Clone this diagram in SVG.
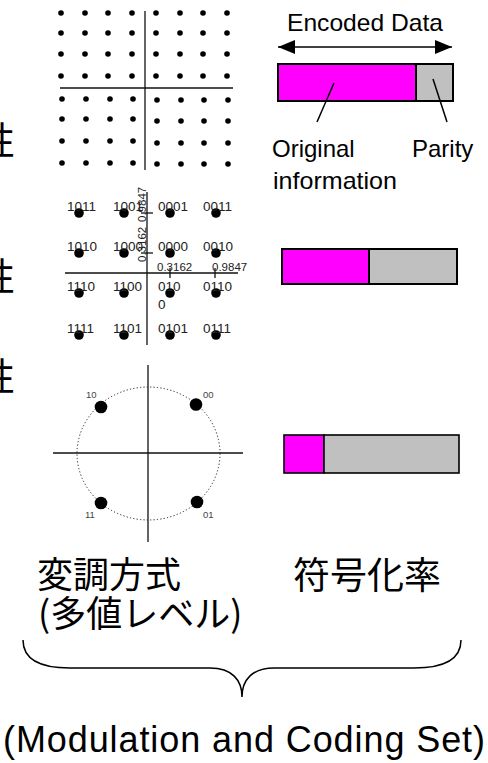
<svg xmlns="http://www.w3.org/2000/svg" width="488" height="763" viewBox="0 0 488 763">
<style>
.ax{stroke:#111;stroke-width:1.3;fill:none}
.d64{fill:#000}
.d16{fill:#000}
.lb16{font-family:"Liberation Sans",Arial,sans-serif;font-size:13.5px;fill:#222}
.tk{font-family:"Liberation Sans",Arial,sans-serif;font-size:11.5px;fill:#222}
.lbq{font-family:"Liberation Sans",Arial,sans-serif;font-size:9.5px;fill:#444}
.en{font-family:"Liberation Sans",Arial,sans-serif;font-size:24px;fill:#000}
.jp{font-family:"Noto Sans CJK JP","Noto Sans CJK SC",sans-serif;font-size:36px;fill:#000}
.bar{stroke:#000;stroke-width:2}
.mag{fill:#ff00ff}
.gry{fill:#c0c0c0}
</style>
<defs>
<marker id="ah" viewBox="0 0 17 14" refX="17" refY="7" markerWidth="17" markerHeight="14" markerUnits="userSpaceOnUse" orient="auto-start-reverse">
<path d="M0,0 L17,7 L0,14 Z" fill="#000"/>
</marker>
</defs>

<g id="side-labels">
<text class="jp" x="-23" y="154" style="font-size:38px">性</text>
<text class="jp" x="-23" y="290" style="font-size:38px">性</text>
<text class="jp" x="-23" y="390" style="font-size:38px">性</text>
</g>

<g id="qam64">
<line class="ax" x1="145" y1="11" x2="145" y2="170"/>
<line class="ax" x1="60" y1="88" x2="233" y2="88"/>
<g class="d64">
<circle cx="61" cy="13" r="2.8"/><circle cx="85" cy="13" r="2.8"/><circle cx="108" cy="13" r="2.8"/><circle cx="132" cy="13" r="2.8"/>
<circle cx="156" cy="13" r="2.8"/><circle cx="180" cy="13" r="2.8"/><circle cx="203" cy="13" r="2.8"/><circle cx="227" cy="13" r="2.8"/>
<circle cx="61" cy="33" r="2.8"/><circle cx="85" cy="33" r="2.8"/><circle cx="108" cy="33" r="2.8"/><circle cx="132" cy="33" r="2.8"/>
<circle cx="156" cy="33" r="2.8"/><circle cx="180" cy="33" r="2.8"/><circle cx="203" cy="33" r="2.8"/><circle cx="227" cy="33" r="2.8"/>
<circle cx="61" cy="54" r="2.8"/><circle cx="85" cy="54" r="2.8"/><circle cx="108" cy="54" r="2.8"/><circle cx="132" cy="54" r="2.8"/>
<circle cx="156" cy="54" r="2.8"/><circle cx="180" cy="54" r="2.8"/><circle cx="203" cy="54" r="2.8"/><circle cx="227" cy="54" r="2.8"/>
<circle cx="61" cy="76" r="2.8"/><circle cx="85" cy="76" r="2.8"/><circle cx="108" cy="76" r="2.8"/><circle cx="132" cy="76" r="2.8"/>
<circle cx="156" cy="76" r="2.8"/><circle cx="180" cy="76" r="2.8"/><circle cx="203" cy="76" r="2.8"/><circle cx="227" cy="76" r="2.8"/>
<circle cx="62" cy="99" r="2.8"/><circle cx="86" cy="99" r="2.8"/><circle cx="110" cy="99" r="2.8"/><circle cx="133" cy="99" r="2.8"/>
<circle cx="157" cy="100" r="2.8"/><circle cx="181" cy="100" r="2.8"/><circle cx="204" cy="100" r="2.8"/><circle cx="228" cy="100" r="2.8"/>
<circle cx="62" cy="119" r="2.8"/><circle cx="86" cy="119" r="2.8"/><circle cx="110" cy="119" r="2.8"/><circle cx="133" cy="119" r="2.8"/>
<circle cx="157" cy="121" r="2.8"/><circle cx="181" cy="121" r="2.8"/><circle cx="204" cy="121" r="2.8"/><circle cx="228" cy="121" r="2.8"/>
<circle cx="62" cy="141" r="2.8"/><circle cx="86" cy="141" r="2.8"/><circle cx="110" cy="141" r="2.8"/><circle cx="133" cy="141" r="2.8"/>
<circle cx="157" cy="143" r="2.8"/><circle cx="181" cy="143" r="2.8"/><circle cx="204" cy="143" r="2.8"/><circle cx="228" cy="143" r="2.8"/>
<circle cx="62" cy="163" r="2.8"/><circle cx="86" cy="163" r="2.8"/><circle cx="110" cy="163" r="2.8"/><circle cx="133" cy="163" r="2.8"/>
<circle cx="157" cy="164" r="2.8"/><circle cx="181" cy="164" r="2.8"/><circle cx="204" cy="164" r="2.8"/><circle cx="228" cy="164" r="2.8"/>
</g>
</g>

<g id="qam16">
<line class="ax" x1="147" y1="192" x2="147" y2="345"/>
<line class="ax" x1="65" y1="273" x2="238" y2="273"/>
<line class="ax" x1="141" y1="213" x2="153" y2="213"/>
<line class="ax" x1="141" y1="253" x2="153" y2="253"/>
<line class="ax" x1="170" y1="268" x2="170" y2="278"/>
<line class="ax" x1="215" y1="268" x2="215" y2="278"/>
<g class="d16">
<circle cx="79" cy="213" r="4.8"/><circle cx="124" cy="213" r="4.8"/><circle cx="170" cy="213" r="4.8"/><circle cx="216" cy="213" r="4.8"/>
<circle cx="79" cy="253" r="4.8"/><circle cx="124" cy="253" r="4.8"/><circle cx="170" cy="253" r="4.8"/><circle cx="216" cy="253" r="4.8"/>
<circle cx="79" cy="293" r="4.8"/><circle cx="124" cy="293" r="4.8"/><circle cx="170" cy="293" r="4.8"/><circle cx="216" cy="293" r="4.8"/>
<circle cx="79" cy="335" r="4.8"/><circle cx="124" cy="335" r="4.8"/><circle cx="170" cy="335" r="4.8"/><circle cx="216" cy="335" r="4.8"/>
</g>
<g class="lb16">
<text x="67" y="211">1011</text><text x="113" y="211">1001</text><text x="158" y="211">0001</text><text x="203" y="211">0011</text>
<text x="67" y="251">1010</text><text x="113" y="251">1000</text><text x="158" y="251">0000</text><text x="203" y="251">0010</text>
<text x="67" y="291">1110</text><text x="113" y="291">1100</text><text x="158" y="291">010</text><text x="203" y="291">0110</text>
<text x="158" y="309">0</text>
<text x="67" y="333">1111</text><text x="113" y="333">1101</text><text x="158" y="333">0101</text><text x="203" y="333">0111</text>
</g>
<g class="tk">
<text transform="translate(146,222) rotate(-90)">0.9847</text>
<text transform="translate(146,262) rotate(-90)">0.3162</text>
<text x="157" y="271">0.3162</text>
<text x="212" y="271">0.9847</text>
</g>
</g>

<g id="qpsk">
<line class="ax" x1="148" y1="365" x2="148" y2="542"/>
<line class="ax" x1="53" y1="453" x2="243" y2="453"/>
<ellipse cx="148.5" cy="453.5" rx="71.5" ry="66.5" fill="none" stroke="#222" stroke-width="1" stroke-dasharray="1.2,2.2"/>
<circle cx="101" cy="407" r="6.3"/>
<circle cx="196" cy="404.5" r="6.3"/>
<circle cx="101" cy="503" r="6.3"/>
<circle cx="197" cy="502" r="6.3"/>
<g class="lbq">
<text x="86" y="398">10</text>
<text x="203" y="398">00</text>
<text x="85" y="518">11</text>
<text x="203" y="518">01</text>
</g>
</g>

<g id="legend">
<line x1="278" y1="47" x2="452" y2="47" stroke="#000" stroke-width="1.5" marker-start="url(#ah)" marker-end="url(#ah)"/>
<text class="en" x="287" y="31" textLength="156" lengthAdjust="spacingAndGlyphs">Encoded Data</text>
<rect class="bar mag" x="278" y="64" width="138" height="37"/>
<rect class="bar gry" x="416" y="64" width="37" height="37"/>
<line x1="334" y1="83" x2="317" y2="122" stroke="#000" stroke-width="1.5"/>
<line x1="433" y1="79" x2="447" y2="122" stroke="#000" stroke-width="1.5"/>
<text class="en" x="272" y="157">Original</text>
<text class="en" x="273" y="189" textLength="124" lengthAdjust="spacingAndGlyphs">information</text>
<text class="en" x="412" y="157">Parity</text>
</g>

<g id="bar2">
<rect class="bar mag" x="282" y="249" width="87" height="35"/>
<rect class="bar gry" x="369" y="249" width="88" height="35"/>
</g>

<g id="bar3">
<rect class="bar mag" x="284" y="435" width="40" height="38" style="stroke-width:1.6"/>
<rect class="bar gry" x="324" y="435" width="135" height="38" style="stroke-width:1.6"/>
</g>

<g id="bottom">
<text class="jp" x="37" y="588">変調方式</text>
<text class="jp" x="38" y="627">(多値レベル)</text>
<text class="jp" x="293" y="589" style="font-size:37px">符号化率</text>
<path d="M23,640 C23,660 40,668 70,668 L210,668 C232,668 242,680 242,697 C242,680 252,668 274,668 L414,668 C444,668 461,660 461,640" fill="none" stroke="#000" stroke-width="1.5"/>
<text x="3" y="752" font-family="Liberation Sans, Arial, sans-serif" font-size="36" textLength="482" lengthAdjust="spacing">(Modulation and Coding Set)</text>
</g>
</svg>
